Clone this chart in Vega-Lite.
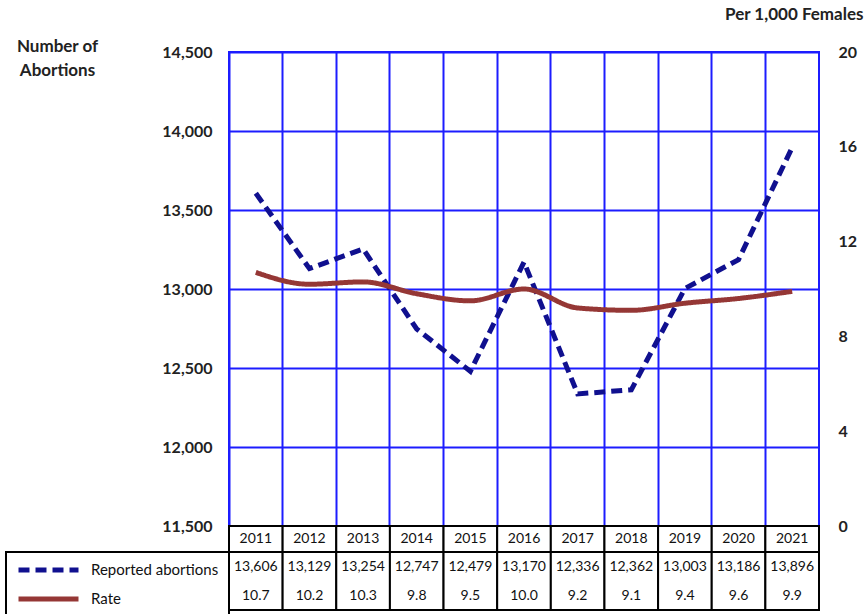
{
  "$schema": "https://vega.github.io/schema/vega-lite/v6.json",
  "background": "white",
  "padding": {"left": 5, "top": 4, "right": 0, "bottom": 0},
  "spacing": 0,
  "bounds": "flush",
  "config": {
    "font": "Lato",
    "view": {"stroke": null},
    "concat": {"spacing": 0},
    "legend": {
      "orient": "none",
      "legendX": -223,
      "legendY": 500,
      "title": null,
      "symbolType": "stroke",
      "symbolSize": 3600,
      "symbolStrokeWidth": 5,
      "clipHeight": 16,
      "labelFont": "Lato",
      "labelFontSize": 15,
      "labelColor": "#111111",
      "labelOffset": 10,
      "labelLimit": 200,
      "rowPadding": 13,
      "padding": 10,
      "strokeColor": "black",
      "strokeWidth": 2,
      "fillColor": "white"
    }
  },
  "datasets": {
    "abortions": [
      {"year": "2011", "reported": 13606, "rate": 10.7},
      {"year": "2012", "reported": 13129, "rate": 10.2},
      {"year": "2013", "reported": 13254, "rate": 10.3},
      {"year": "2014", "reported": 12747, "rate": 9.8},
      {"year": "2015", "reported": 12479, "rate": 9.5},
      {"year": "2016", "reported": 13170, "rate": 10.0},
      {"year": "2017", "reported": 12336, "rate": 9.2},
      {"year": "2018", "reported": 12362, "rate": 9.1},
      {"year": "2019", "reported": 13003, "rate": 9.4},
      {"year": "2020", "reported": 13186, "rate": 9.6},
      {"year": "2021", "reported": 13896, "rate": 9.9}
    ]
  },
  "vconcat": [
    {
      "width": 590,
      "height": 474,
      "data": {"name": "abortions"},
      "view": {"stroke": "#1c1cff", "strokeWidth": 2},
      "encoding": {
        "x": {
          "field": "year",
          "type": "ordinal",
          "scale": {"type": "band", "paddingInner": 0, "paddingOuter": 0},
          "axis": {
            "title": null,
            "labels": false,
            "ticks": false,
            "domain": false,
            "grid": true,
            "gridColor": "#1c1cff",
            "gridWidth": 2,
            "gridOpacity": 1,
            "bandPosition": 0,
            "minExtent": 0,
            "maxExtent": 0,
            "labelPadding": 0
          }
        }
      },
      "layer": [
        {
          "mark": {"type": "line", "strokeWidth": 5},
          "encoding": {
            "y": {
              "field": "reported",
              "type": "quantitative",
              "scale": {"domain": [11500, 14500], "nice": false, "zero": false},
              "axis": {
                "orient": "left",
                "values": [11500, 12000, 12500, 13000, 13500, 14000, 14500],
                "format": ",d",
                "grid": true,
                "gridColor": "#1c1cff",
                "gridWidth": 2,
                "gridOpacity": 1,
                "ticks": false,
                "domain": false,
                "labelFont": "Lato",
                "labelFontSize": 16,
                "labelFontWeight": "bold",
                "labelColor": "#222222",
                "labelPadding": 17,
                "title": ["Number of", "Abortions"],
                "titleAngle": 0,
                "titleAlign": "center",
                "titleBaseline": "top",
                "titleX": -172,
                "titleY": -14,
                "titleFont": "Lato",
                "titleFontSize": 17,
                "titleFontWeight": "bold",
                "titleColor": "#222222",
                "titleLineHeight": 24
              }
            },
            "color": {
              "datum": "Reported abortions",
              "type": "nominal",
              "scale": {"domain": ["Reported abortions", "Rate"], "range": ["#10108f", "#953735"]},
              "legend": {"title": null}
            },
            "strokeDash": {
              "datum": "Reported abortions",
              "type": "nominal",
              "scale": {"domain": ["Reported abortions", "Rate"], "range": [[11, 6], [1, 0]]},
              "legend": {"title": null}
            }
          }
        },
        {
          "mark": {"type": "line", "strokeWidth": 5, "interpolate": "monotone"},
          "encoding": {
            "y": {
              "field": "rate",
              "type": "quantitative",
              "scale": {"domain": [0, 20], "nice": false},
              "axis": {
                "orient": "right",
                "values": [0, 4, 8, 12, 16, 20],
                "grid": false,
                "ticks": false,
                "domain": false,
                "labelFont": "Lato",
                "labelFontSize": 16,
                "labelFontWeight": "bold",
                "labelColor": "#222222",
                "labelPadding": 19,
                "title": "Per 1,000 Females",
                "titleAngle": 0,
                "titleAlign": "right",
                "titleBaseline": "top",
                "titleX": 44,
                "titleY": -46,
                "titleFont": "Lato",
                "titleFontSize": 17,
                "titleFontWeight": "bold",
                "titleColor": "#222222"
              }
            },
            "color": {"datum": "Rate", "type": "nominal", "legend": {"title": null}},
            "strokeDash": {"datum": "Rate", "type": "nominal", "legend": {"title": null}}
          }
        }
      ],
      "resolve": {"scale": {"y": "independent"}}
    },
    {
      "width": 590,
      "height": 26,
      "data": {"name": "abortions"},
      "encoding": {
        "x": {
          "field": "year",
          "type": "ordinal",
          "scale": {"type": "band", "paddingInner": 0, "paddingOuter": 0},
          "axis": null
        }
      },
      "layer": [
        {"mark": {"type": "rect", "fill": "white", "stroke": "black", "strokeWidth": 2}},
        {
          "mark": {"type": "text", "fontSize": 14, "font": "Lato", "color": "#111111"},
          "encoding": {"text": {"field": "year"}}
        }
      ]
    },
    {
      "width": 590,
      "height": 58,
      "data": {"name": "abortions"},
      "encoding": {
        "x": {
          "field": "year",
          "type": "ordinal",
          "scale": {"type": "band", "paddingInner": 0, "paddingOuter": 0},
          "axis": null
        }
      },
      "layer": [
        {"mark": {"type": "rect", "fill": "white", "stroke": "black", "strokeWidth": 2}},
        {
          "mark": {"type": "text", "fontSize": 14, "font": "Lato", "color": "#111111"},
          "encoding": {
            "y": {"datum": "Reported abortions", "type": "nominal", "scale": {"domain": ["Reported abortions", "Rate"]}, "axis": null},
            "text": {"field": "reported", "format": ",d"}
          }
        },
        {
          "mark": {"type": "text", "fontSize": 14, "font": "Lato", "color": "#111111"},
          "encoding": {
            "y": {"datum": "Rate", "type": "nominal", "axis": null},
            "text": {"field": "rate", "format": ".1f"}
          }
        }
      ]
    }
  ]
}
